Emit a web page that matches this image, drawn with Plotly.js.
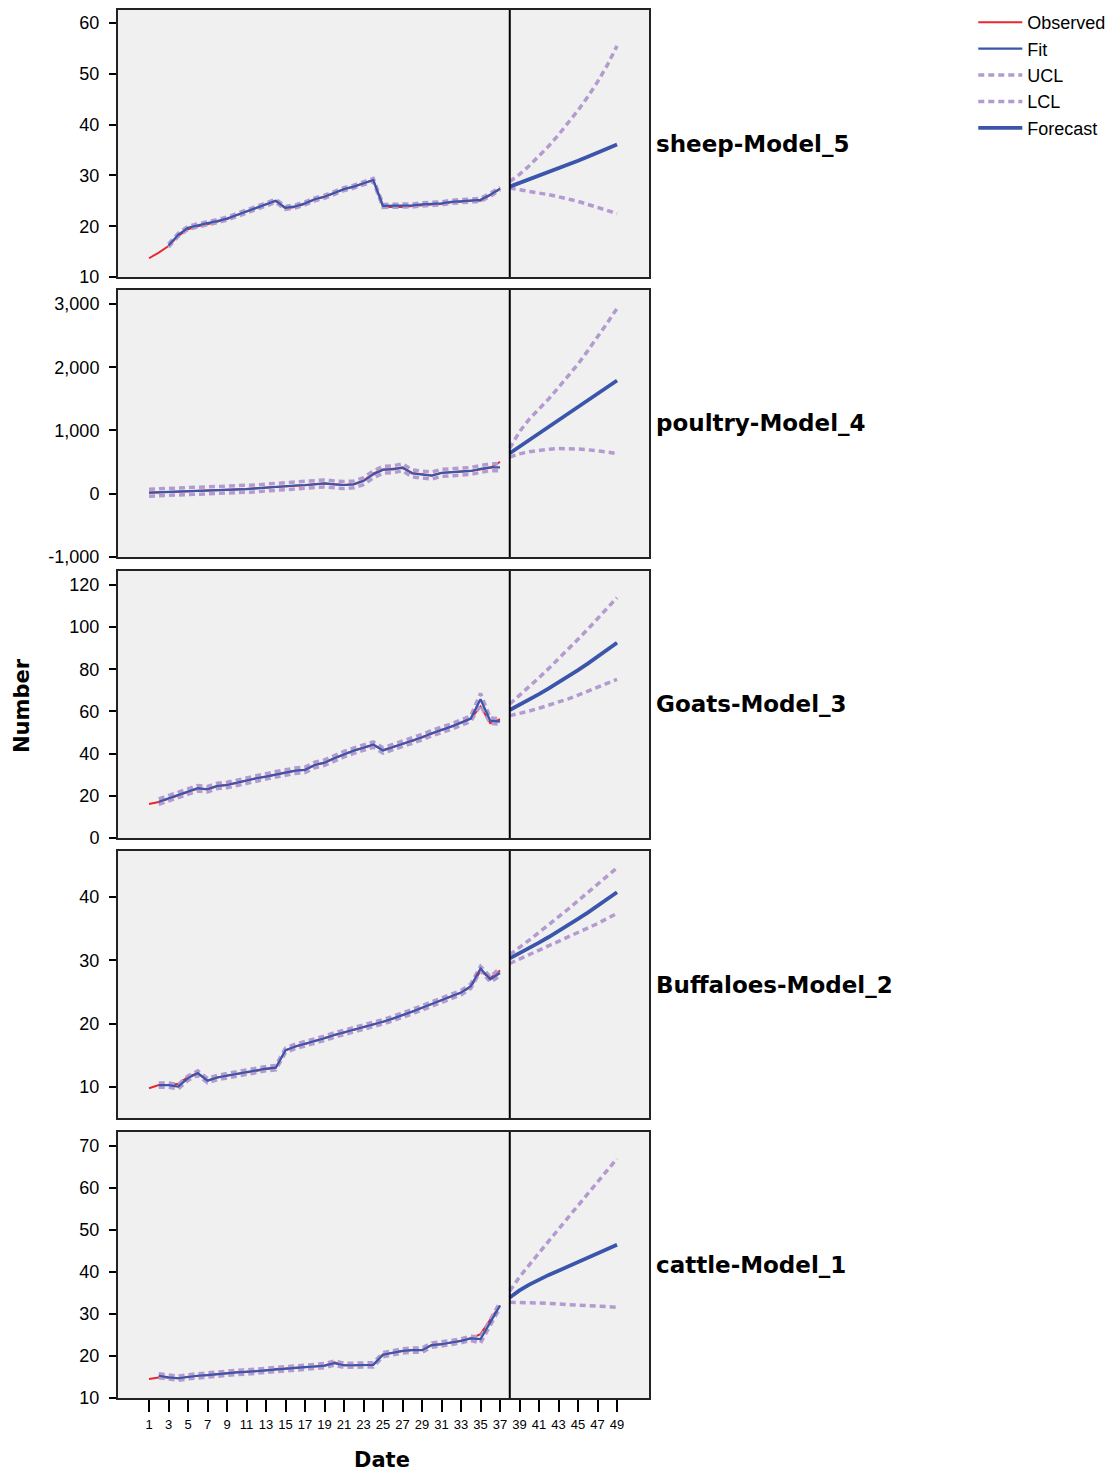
<!DOCTYPE html>
<html><head><meta charset="utf-8">
<script src="https://cdn.plot.ly/plotly-3.0.1.min.js"></script>
<style>html,body{margin:0;padding:0;background:#fff}</style>
</head><body><div id="chart" style="width:1120px;height:1475px"></div>
<script>
// ---------- data ----------
const histDates = [1,2,3,4,5,6,7,8,9,10,11,12,13,14,15,16,17,18,19,20,21,22,23,24,25,26,27,28,29,30,31,32,33,34,35,36,37];
const fcDates = [38,39,40,41,42,43,44,45,46,47,48,49];
const xTickVals = [1,3,5,7,9,11,13,15,17,19,21,23,25,27,29,31,33,35,37,39,41,43,45,47,49];
const forecastStart = 38;
const panelNames = ['sheep-Model_5','poultry-Model_4','Goats-Model_3','Buffaloes-Model_2','cattle-Model_1'];

// sheep
const sheepObs = [13.7,14.8,16.1,18.1,19.4,20.0,20.4,20.9,21.4,22.2,22.9,23.5,24.3,25.0,23.5,23.8,24.4,25.3,25.8,26.5,27.3,27.8,28.4,29.1,23.8,23.8,23.8,24.0,24.2,24.3,24.4,24.7,24.8,25.0,25.0,26.1,27.3];
const sheepFit = [null,null,16.2,18.3,19.7,20.2,20.6,21.0,21.5,22.2,22.9,23.5,24.3,25.0,23.6,23.9,24.5,25.3,25.8,26.5,27.3,27.8,28.4,29.1,24.0,24.0,24.0,24.1,24.3,24.4,24.5,24.8,24.9,25.1,25.2,26.2,27.4];
const sheepUCL = [null,null,16.5,18.6,20.0,20.5,20.9,21.3,21.8,22.5,23.2,23.8,24.6,25.3,23.9,24.2,24.8,25.6,26.1,26.8,27.6,28.1,28.7,29.4,24.3,24.3,24.3,24.4,24.6,24.7,24.8,25.1,25.2,25.4,25.5,26.5,27.7];
const sheepLCL = [null,null,15.9,18.0,19.4,19.9,20.3,20.7,21.2,21.9,22.6,23.2,24.0,24.7,23.3,23.6,24.2,25.0,25.5,26.2,27.0,27.5,28.1,28.8,23.7,23.7,23.7,23.8,24.0,24.1,24.2,24.5,24.6,24.8,24.9,25.9,27.1];
const sheepFc = [27.8,28.5,29.2,29.9,30.6,31.4,32.1,32.9,33.7,34.5,35.3,36.1];
const sheepFcUCL = [28.8,30.2,31.9,33.8,35.8,38.0,40.3,42.8,45.5,48.4,51.7,55.5];
const sheepFcLCL = [27.5,27.2,26.9,26.6,26.2,25.8,25.4,24.9,24.3,23.7,23.1,22.5];

// poultry
const poultryObs = [15,20,28,35,40,45,48,52,58,65,75,88,100,110,120,128,135,145,160,150,140,150,210,320,380,395,405,330,305,290,330,345,350,360,385,410,505];
const poultryFit = [17,22,30,37,42,46,50,54,59,65,72,85,98,108,120,130,138,150,163,148,138,148,200,305,380,386,418,320,308,288,330,343,350,360,392,418,418];
const poultryUCL = [72,77,85,92,97,101,105,109,114,120,127,140,153,163,175,185,193,205,218,203,193,203,255,360,435,441,473,375,363,343,385,398,405,415,447,473,473];
const poultryLCL = [-38,-33,-25,-18,-13,-9,-5,-1,4,10,17,30,43,53,65,75,83,95,108,93,83,93,145,250,325,331,363,265,253,233,275,288,295,305,337,363,363];
const poultryFc = [640,745,850,955,1058,1162,1266,1370,1475,1580,1685,1790];
const poultryFcUCL = [720,980,1180,1340,1500,1680,1860,2050,2260,2470,2700,2930];
const poultryFcLCL = [580,630,665,690,705,715,715,708,695,680,660,635];

// goats
const goatsObs = [16.1,17.0,18.6,20.2,21.8,23.4,23.0,24.6,25.1,26.2,27.2,28.3,29.1,30.2,31.0,31.9,32.3,34.6,35.7,37.8,39.7,41.4,42.8,44.1,41.7,43.0,44.6,46.0,47.8,49.7,51.2,52.8,54.7,56.6,62.3,54.4,56.3];
const goatsFit = [null,17.2,18.8,20.4,22.0,23.6,23.1,24.7,25.1,26.2,27.2,28.3,29.1,30.2,31.0,31.9,32.3,34.6,35.7,37.8,39.7,41.4,42.8,44.3,41.5,43.0,44.6,46.0,47.8,49.7,51.2,52.8,54.7,56.6,65.8,55.6,55.2];
const goatsUCL = [null,18.5,20.1,21.7,23.3,24.9,24.4,26.0,26.4,27.5,28.5,29.6,30.4,31.5,32.3,33.2,33.6,35.9,37.0,39.1,41.0,42.7,44.1,45.6,42.8,44.3,45.9,47.3,49.1,51.0,52.5,54.1,56.0,57.9,68.5,56.9,56.5];
const goatsLCL = [null,15.9,17.5,19.1,20.7,22.3,21.8,23.4,23.8,24.9,25.9,27.0,27.8,28.9,29.7,30.6,31.0,33.3,34.4,36.5,38.4,40.1,41.5,43.0,40.2,41.7,43.3,44.7,46.5,48.4,49.9,51.5,53.4,55.3,63.1,54.3,53.9];
const goatsFc = [60.7,63.1,65.6,68.2,70.9,73.7,76.6,79.6,82.7,85.9,89.2,92.6];
const goatsFcUCL = [63.5,67.5,71.7,76.0,80.4,84.9,89.5,94.2,99.0,103.9,108.9,114.0];
const goatsFcLCL = [58.0,59.0,60.2,61.5,62.9,64.4,66.0,67.7,69.5,71.3,73.2,75.2];

// buffaloes
const buffObs = [9.8,10.3,10.3,10.5,11.6,12.2,11.0,11.5,11.8,12.05,12.4,12.6,12.9,13.05,15.8,16.4,16.8,17.3,17.7,18.2,18.6,19.0,19.5,19.9,20.3,20.8,21.3,21.9,22.5,23.1,23.7,24.3,24.9,25.8,28.3,27.2,28.4];
const buffFit = [null,10.3,10.3,10.05,11.4,12.2,11.0,11.5,11.8,12.05,12.4,12.6,12.9,13.05,15.8,16.4,16.8,17.3,17.7,18.2,18.6,19.0,19.5,19.9,20.3,20.8,21.3,21.9,22.5,23.1,23.7,24.3,24.9,25.9,28.7,27.0,28.0];
const buffUCL = [null,10.65,10.65,10.4,11.75,12.55,11.35,11.85,12.15,12.4,12.75,12.95,13.25,13.4,16.15,16.75,17.15,17.65,18.05,18.55,18.95,19.35,19.85,20.25,20.65,21.15,21.65,22.25,22.85,23.45,24.05,24.65,25.25,26.25,29.05,27.4,28.8];
const buffLCL = [null,9.95,9.95,9.7,11.05,11.85,10.65,11.15,11.45,11.7,12.05,12.25,12.55,12.7,15.45,16.05,16.45,16.95,17.35,17.85,18.25,18.65,19.15,19.55,19.95,20.45,20.95,21.55,22.15,22.75,23.35,23.95,24.55,25.55,28.35,26.6,27.5];
const buffFc = [30.3,31.1,31.93,32.79,33.68,34.6,35.55,36.53,37.54,38.58,39.65,40.75];
const buffFcUCL = [30.9,32.0,33.2,34.4,35.6,36.9,38.1,39.4,40.7,42.0,43.3,44.6];
const buffFcLCL = [29.5,30.2,30.8,31.5,32.2,32.9,33.6,34.3,35.0,35.8,36.6,37.4];

// cattle
const cattleObs = [14.5,14.9,14.9,14.7,15.05,15.3,15.45,15.7,15.9,16.1,16.2,16.4,16.6,16.9,17.0,17.2,17.35,17.5,17.7,18.5,17.8,17.8,17.9,17.9,20.4,20.8,21.2,21.4,21.4,22.6,22.8,23.2,23.6,24.2,25.2,28.7,32.0];
const cattleFit = [null,15.3,14.9,14.7,15.05,15.3,15.45,15.7,15.9,16.1,16.2,16.4,16.6,16.9,17.0,17.2,17.35,17.5,17.7,18.3,17.8,17.8,17.9,17.9,20.3,20.8,21.2,21.4,21.4,22.6,22.8,23.2,23.6,24.2,24.0,28.0,32.0];
const cattleUCL = [null,15.8,15.4,15.2,15.55,15.8,15.95,16.2,16.4,16.6,16.7,16.9,17.1,17.4,17.5,17.7,17.85,18.0,18.2,18.8,18.3,18.3,18.4,18.4,20.8,21.3,21.7,21.9,21.9,23.1,23.3,23.7,24.1,24.7,24.5,28.5,32.8];
const cattleLCL = [null,14.8,14.4,14.2,14.55,14.8,14.95,15.2,15.4,15.6,15.7,15.9,16.1,16.4,16.5,16.7,16.85,17.0,17.2,17.8,17.3,17.3,17.4,17.4,19.8,20.3,20.7,20.9,20.9,22.1,22.3,22.7,23.1,23.7,23.1,27.5,31.5];
const cattleFc = [33.9,35.6,37.0,38.2,39.3,40.3,41.3,42.3,43.3,44.4,45.4,46.5];
const cattleFcUCL = [35.5,38.8,41.7,44.6,47.4,50.2,53.0,55.8,58.6,61.4,64.2,67.0];
const cattleFcLCL = [32.8,32.8,32.7,32.6,32.5,32.4,32.3,32.1,32.0,31.9,31.7,31.6];

// axis ticks per panel
const sheepTicks = [10,20,30,40,50,60];
const sheepTickText = ['10','20','30','40','50','60'];
const poultryTicks = [-1000,0,1000,2000,3000];
const poultryTickText = ['-1,000','0','1,000','2,000','3,000'];
const goatsTicks = [0,20,40,60,80,100,120];
const goatsTickText = ['0','20','40','60','80','100','120'];
const buffTicks = [10,20,30,40];
const buffTickText = ['10','20','30','40'];
const cattleTicks = [10,20,30,40,50,60,70];
const cattleTickText = ['10','20','30','40','50','60','70'];

// ---------- styling ----------
const C_OBS = '#e8282d', C_FIT = '#3b55ab', C_CL = '#b39bd0';
const FONT = 'Liberation Sans, Arial, sans-serif';
const BOLD = 'DejaVu Sans, Arial, sans-serif';
const DASH = '6px,4px';

const panels = [
  {obs:sheepObs, fit:sheepFit, ucl:sheepUCL, lcl:sheepLCL, fc:sheepFc, fu:sheepFcUCL, fl:sheepFcLCL, ticks:sheepTicks, tt:sheepTickText, range:[10,62.56], dom:[0.8076,1]},
  {obs:poultryObs, fit:poultryFit, ucl:poultryUCL, lcl:poultryLCL, fc:poultryFc, fu:poultryFcUCL, fl:poultryFcLCL, ticks:poultryTicks, tt:poultryTickText, range:[-1000,3221], dom:[0.6059,0.7983]},
  {obs:goatsObs, fit:goatsFit, ucl:goatsUCL, lcl:goatsLCL, fc:goatsFc, fu:goatsFcUCL, fl:goatsFcLCL, ticks:goatsTicks, tt:goatsTickText, range:[0,126.6], dom:[0.4035,0.5958]},
  {obs:buffObs, fit:buffFit, ucl:buffUCL, lcl:buffLCL, fc:buffFc, fu:buffFcUCL, fl:buffFcLCL, ticks:buffTicks, tt:buffTickText, range:[5.1,47.26], dom:[0.2017,0.3941]},
  {obs:cattleObs, fit:cattleFit, ucl:cattleUCL, lcl:cattleLCL, fc:cattleFc, fu:cattleFcUCL, fl:cattleFcLCL, ticks:cattleTicks, tt:cattleTickText, range:[10,73.3], dom:[0,0.1916]}
];

const traces = [];
const layout = {
  width:1120, height:1475,
  margin:{l:118, r:471, t:10, b:77},
  paper_bgcolor:'#ffffff', plot_bgcolor:'#f0f0f0',
  font:{family:FONT, size:14, color:'#000'},
  showlegend:true,
  legend:{xref:'container', yref:'container', x:0.869, y:0.9973, xanchor:'left', yanchor:'top',
          font:{family:FONT, size:18, color:'#000'}, bgcolor:'rgba(0,0,0,0)',
          traceorder:'normal', itemwidth:44},
  annotations:[], shapes:[]
};

panels.forEach((p, i) => {
  const k = i + 1;
  const xa = k === 1 ? 'x' : 'x' + k;
  const ya = k === 1 ? 'y' : 'y' + k;
  const first = (k === 1);
  const common = {xaxis:xa, yaxis:ya, mode:'lines', hoverinfo:'x+y'};
  traces.push(Object.assign({x:histDates, y:p.obs, name:'Observed', legendgroup:'obs', legendrank:1, showlegend:first,
    line:{color:C_OBS, width:2}}, common));
  traces.push(Object.assign({x:histDates, y:p.ucl, name:'UCL', legendgroup:'ucl', legendrank:3, showlegend:first,
    line:{color:C_CL, width:3.5, dash:DASH}}, common));
  traces.push(Object.assign({x:histDates, y:p.lcl, name:'LCL', legendgroup:'lcl', legendrank:4, showlegend:first,
    line:{color:C_CL, width:3.5, dash:DASH}}, common));
  traces.push(Object.assign({x:histDates, y:p.fit, name:'Fit', legendgroup:'fit', legendrank:2, showlegend:first,
    line:{color:C_FIT, width:2.2}}, common));
  traces.push(Object.assign({x:fcDates, y:p.fu, name:'UCL', legendgroup:'ucl', showlegend:false,
    line:{color:C_CL, width:3.5, dash:DASH}}, common));
  traces.push(Object.assign({x:fcDates, y:p.fl, name:'LCL', legendgroup:'lcl', showlegend:false,
    line:{color:C_CL, width:3.5, dash:DASH}}, common));
  traces.push(Object.assign({x:fcDates, y:p.fc, name:'Forecast', legendgroup:'fc', legendrank:5, showlegend:first,
    line:{color:C_FIT, width:3.8}}, common));

  const last = (k === 5);
  layout['xaxis' + (k === 1 ? '' : k)] = {
    anchor: ya, domain:[0,1], range:[-2.18,52.28], fixedrange:true,
    showgrid:false, zeroline:false, showline:true, mirror:true, linecolor:'#222', linewidth:2,
    tickvals: xTickVals, ticktext: xTickVals.map(String),
    ticks: last ? 'outside' : '', ticklen:12, tickwidth:2, tickcolor:'#000',
    showticklabels:last, tickfont:{family:FONT, size:13, color:'#000'}, ticklabelstandoff:1
  };
  layout['yaxis' + (k === 1 ? '' : k)] = {
    anchor: xa, domain:p.dom, range:p.range, fixedrange:true,
    showgrid:false, zeroline:false, showline:true, mirror:true, linecolor:'#222', linewidth:2,
    tickvals:p.ticks, ticktext:p.tt, ticks:'outside', ticklen:7, tickwidth:2, tickcolor:'#000',
    tickfont:{family:FONT, size:18, color:'#000'}, ticklabelstandoff:6
  };
  layout.shapes.push({type:'line', xref:xa, yref:ya + ' domain', x0:forecastStart, x1:forecastStart, y0:0, y1:1,
    line:{color:'#000', width:2}});
  layout.annotations.push({text:panelNames[i], xref:'paper', yref:ya + ' domain', x:1.0094, y:0.5,
    xanchor:'left', yanchor:'middle', showarrow:false, font:{family:BOLD, size:23, color:'#000', weight:'bold'}});
});

layout.annotations.push({text:'Date', xref:'paper', yref:'paper', x:0.497, y:-0.0447, xanchor:'center', yanchor:'middle',
  showarrow:false, font:{family:BOLD, size:21, color:'#000', weight:'bold'}});
layout.annotations.push({text:'Number', xref:'paper', yref:'paper', x:-0.1808, y:0.4993, xanchor:'center', yanchor:'middle',
  textangle:-90, showarrow:false, font:{family:BOLD, size:21, color:'#000', weight:'bold'}});

Plotly.newPlot('chart', traces, layout, {displayModeBar:false, staticPlot:true});
</script>
</body></html>
